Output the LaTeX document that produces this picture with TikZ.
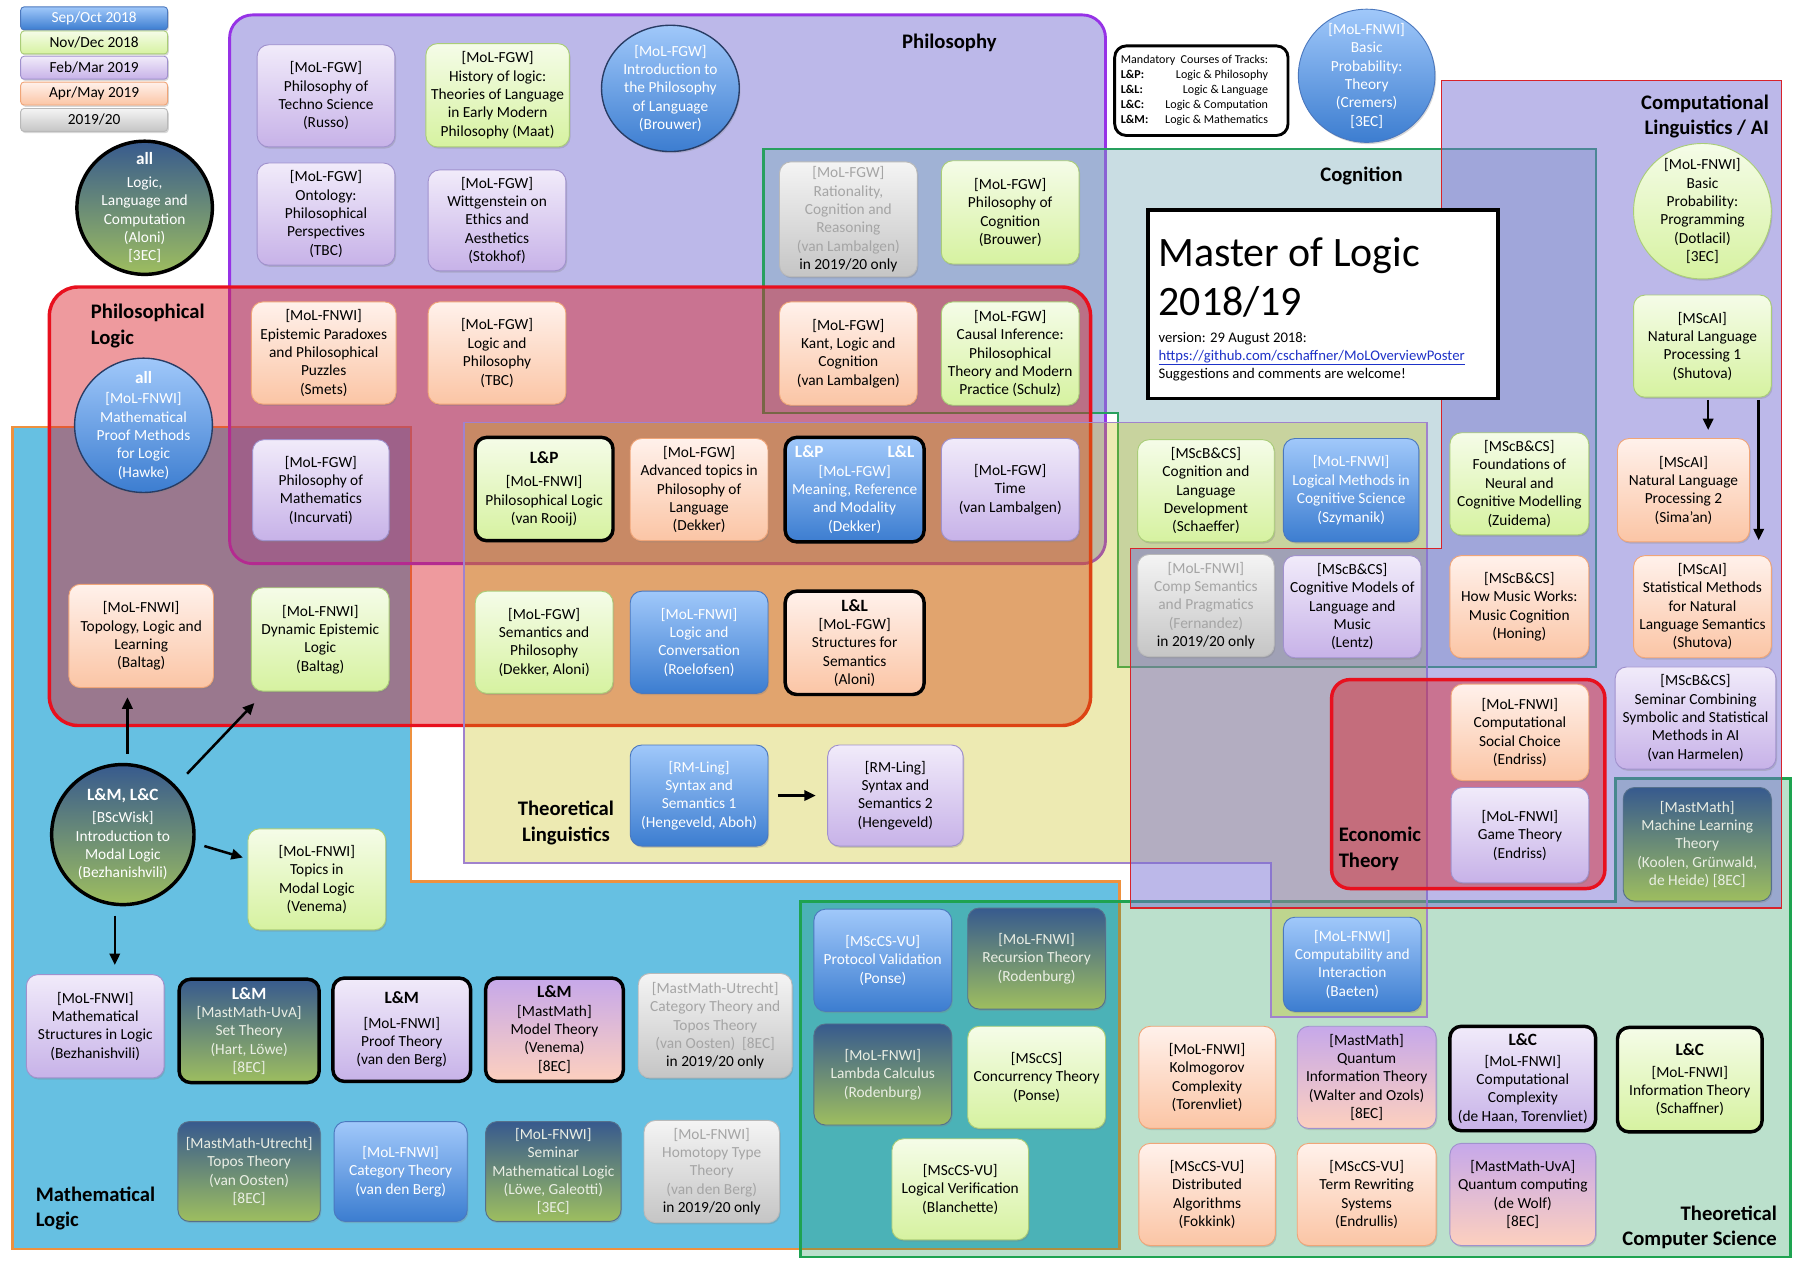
\documentclass[tikz,border=0pt]{standalone}
\usepackage{fontspec}
\setmainfont{Carlito}
\usetikzlibrary{shapes.geometric,arrows.meta,shadows}
\newcommand{\trackname}[1]{{\bfseries\fontsize{15}{16}\selectfont #1}}
% course colours
\definecolor{bTop}{RGB}{160,200,250}
\definecolor{bBot}{RGB}{60,125,208}
\definecolor{bBrd}{RGB}{75,120,190}
\definecolor{gTop}{RGB}{245,252,232}
\definecolor{gBot}{RGB}{214,242,160}
\definecolor{gBrd}{RGB}{170,205,120}
\definecolor{pTop}{RGB}{241,235,250}
\definecolor{pBot}{RGB}{199,178,232}
\definecolor{pBrd}{RGB}{160,145,205}
\definecolor{oTop}{RGB}{255,241,235}
\definecolor{oBot}{RGB}{251,197,165}
\definecolor{oBrd}{RGB}{240,165,120}
\definecolor{yTop}{RGB}{244,244,244}
\definecolor{yBot}{RGB}{197,197,197}
\definecolor{yBrd}{RGB}{185,185,185}
\definecolor{yTxt}{RGB}{165,165,165}
\definecolor{dTop}{RGB}{55,90,142}
\definecolor{dBot}{RGB}{158,190,95}
\definecolor{dBrd}{RGB}{85,112,140}
\definecolor{dTxt}{RGB}{234,238,228}
\definecolor{poTop}{RGB}{198,168,234}
\definecolor{poBot}{RGB}{253,208,190}
\definecolor{navyB}{RGB}{40,60,100}
% region colours
\definecolor{mathF}{RGB}{102,192,226}
\definecolor{mathB}{RGB}{238,145,62}
\definecolor{philF}{RGB}{117,108,210}
\definecolor{philB}{RGB}{150,50,230}
\definecolor{cogF}{RGB}{120,170,185}
\definecolor{cogB}{RGB}{40,160,95}
\definecolor{tcsF}{RGB}{4,141,70}
\definecolor{tcsB}{RGB}{30,163,80}
\definecolor{redF}{RGB}{218,33,40}
\definecolor{redB}{RGB}{232,16,30}
\definecolor{lingF}{RGB}{198,188,0}
\definecolor{lingB}{RGB}{160,130,205}
\definecolor{compB}{RGB}{216,35,42}
\definecolor{urlC}{RGB}{30,50,200}

\tikzset{
  cbox/.style={rectangle, rounded corners=10pt, line width=0.8pt, align=center, inner sep=2pt,
    minimum width=120pt, minimum height=89pt, font=\fontsize{13.4}{16}\selectfont,
    drop shadow={shadow xshift=1pt, shadow yshift=-1.5pt, opacity=0.3}},
  legbox/.style={rectangle, rounded corners=3pt, line width=0.8pt, inner sep=0pt,
    minimum width=128pt, minimum height=20pt, font=\fontsize{13.4}{16}\selectfont,
    drop shadow={shadow xshift=1pt, shadow yshift=-1.5pt, opacity=0.3}},
  circ/.style={ellipse, line width=0.8pt, inner sep=0pt,
    drop shadow={shadow xshift=1pt, shadow yshift=-1.5pt, opacity=0.3}},
  ctext/.style={align=center, font=\fontsize{13.4}{16}\selectfont, inner sep=0pt},
  sepoct/.style={top color=bTop, bottom color=bBot, draw=bBrd, text=white},
  novdec/.style={top color=gTop, bottom color=gBot, draw=gBrd},
  febmar/.style={top color=pTop, bottom color=pBot, draw=pBrd},
  aprmay/.style={top color=oTop, bottom color=oBot, draw=oBrd},
  nextyr/.style={top color=yTop, bottom color=yBot, draw=yBrd, text=yTxt},
  fullyr/.style={top color=dTop, bottom color=dBot, draw=dBrd, text=dTxt},
  febmay/.style={top color=poTop, bottom color=poBot, draw=pBrd},
  mand/.style={draw=black, line width=3pt},
  wd/.style={minimum width=#1pt},
  ht/.style={minimum height=#1pt},
  rlabel/.style={font=\bfseries\fontsize{18}{22}\selectfont, inner sep=0pt},
  arr/.style={line width=2.2pt, -{Triangle[length=10pt,width=9pt]}},
  ttl/.style={anchor=base west, inner sep=0pt},
}

\begin{document}
\begin{tikzpicture}[x=1pt,y=-1pt]
\useasboundingbox (0,0) rectangle (1568,1108);
\fill[white] (0,0) rectangle (1568,1108);

% ---------- regions ----------
\draw[draw=mathB, line width=2.5pt, fill=mathF]
  (11,372) -- (358,372) -- (358,768) -- (975,768) -- (975,1088) -- (11,1088) -- cycle;
\draw[draw=philB, line width=2.5pt, fill=philF, fill opacity=0.48, rounded corners=20pt]
  (200,13) rectangle (963,491);
\draw[draw=cogB, line width=2pt, fill=cogF, fill opacity=0.4]
  (665,130) -- (1390,130) -- (1390,581) -- (974,581) -- (974,360) -- (665,360) -- cycle;
\draw[draw=tcsB, line width=2.5pt, fill=tcsF, fill opacity=0.27]
  (697,785) -- (1407,785) -- (1407,678) -- (1560,678) -- (1560,1095) -- (697,1095) -- cycle;
\draw[draw=redB, line width=3pt, fill=redF, fill opacity=0.45, rounded corners=25pt]
  (43,250) rectangle (950,632);
\draw[draw=lingB, line width=1.5pt, fill=lingF, fill opacity=0.3]
  (404,368) -- (1243,368) -- (1243,886) -- (1107,886) -- (1107,752) -- (404,752) -- cycle;
\draw[draw=compB, line width=1pt, fill=philF, fill opacity=0.48]
  (1256,70) -- (1552,70) -- (1552,791) -- (985,791) -- (985,478) -- (1256,478) -- cycle;
\draw[draw=redB, line width=3pt, fill=redF, fill opacity=0.45, rounded corners=16pt]
  (1160,592) rectangle (1398,774);

% ---------- region labels ----------
\node[rlabel] (lblphil) at (827,37) {Philosophy};
\node[rlabel] (lblcog) at (1186,153) {Cognition};
\node[rlabel, align=right, anchor=east] (lblcomp) at (1541,101.5) {Computational\\Linguistics / AI};
\node[rlabel, align=left, anchor=west] (lblplog) at (79,284) {Philosophical\\Logic};
\node[rlabel, align=center] (lblling) at (493,717) {Theoretical\\Linguistics};
\node[rlabel, align=left, anchor=west] (lblmath) at (31,1053) {Mathematical\\Logic};
\node[rlabel, align=left, anchor=west] (lblecon) at (1166,739.5) {Economic\\Theory};
\node[rlabel, align=right, anchor=east] (lbltcs) at (1548,1069) {Theoretical\\Computer Science};

% ---------- legend ----------
\node[legbox, sepoct] (lgsep) at (82,16) {Sep/Oct 2018};
\node[legbox, novdec] (lgnov) at (82,37) {Nov/Dec 2018};
\node[legbox, febmar] (lgfeb) at (82,59) {Feb/Mar 2019};
\node[legbox, aprmay] (lgapr) at (82,81.5) {Apr/May 2019};
\node[legbox, nextyr, text=black] (lgnext) at (82,104.5) {2019/20};

\node[draw=black, line width=2.5pt, rounded corners=10pt, fill=white, minimum width=151pt,
  minimum height=78pt, inner sep=2pt, font=\fontsize{10.5}{13}\selectfont] (mandatory) at (1046.5,79)
  {\begin{tabular}{@{}l@{\hspace{8pt}}r@{\hspace{12pt}}}
   \multicolumn{2}{@{}l@{\hspace{12pt}}}{Mandatory\ \ Courses of Tracks:}\\
   \textbf{L\&P:} & Logic \& Philosophy\\
   \textbf{L\&L:} & Logic \& Language\\
   \textbf{L\&C:} & Logic \& Computation\\
   \textbf{L\&M:} & Logic \& Mathematics
   \end{tabular}};

% ---------- title ----------
\node[draw=black, line width=3pt, fill=white, minimum width=305pt, minimum height=164pt, inner sep=0pt] (title) at (1152.5,265) {};
\node[ttl, font=\fontsize{36.5}{42.5}\selectfont] (titlemain) at (1009,232.5) {Master of Logic};
\node[ttl, font=\fontsize{36.5}{42.5}\selectfont] (titleyear) at (1009,275) {2018/19};
\node[ttl, font=\fontsize{12.8}{16}\selectfont] (titleversion) at (1009,298) {version: 29 August 2018:};
\node[ttl, font=\fontsize{12.8}{16}\selectfont, text=urlC] (titleurl) at (1009,314) {\underline{https://github.com/cschaffner/MoLOverviewPoster}};
\node[ttl, font=\fontsize{12.8}{16}\selectfont] (titlenote) at (1009,330) {Suggestions and comments are welcome!};

% ---------- circles ----------
\node[circ, fullyr, mand, wd=118, ht=116,
  label={[ctext,text=white]center:{\trackname{all}\\[4pt]Logic,\\Language and\\Computation\\(Aloni)\\{}[3EC]}}] (llc) at (126,181) {};
\node[circ, sepoct, draw=navyB, line width=1.2pt, wd=120, ht=110,
  label={[ctext,text=white]center:{{}[MoL-FGW]\\Introduction to\\the Philosophy\\of Language\\(Brouwer)}}] (introphil) at (584,77) {};
\node[circ, sepoct, draw=navyB, line width=1.2pt, wd=120, ht=117,
  label={[ctext,text=white]center:{\trackname{all}\\[2pt]{}[MoL-FNWI]\\Mathematical\\Proof Methods\\for Logic\\(Hawke)}}] (proofmeth) at (125,370.5) {};
\node[circ, fullyr, mand, wd=124, ht=122,
  label={[ctext,text=white]center:{\trackname{L\&M, L\&C}\\[3pt]{}[BScWisk]\\Introduction to\\Modal Logic\\(Bezhanishvili)}}] (modal) at (107,727) {};
\node[circ, sepoct, wd=119, ht=116,
  label={[ctext,text=white]center:{{}[MoL-FNWI]\\Basic\\Probability:\\Theory\\(Cremers)\\{}[3EC]}}] (probtheory) at (1190.5,66) {};
\node[circ, novdec, wd=120, ht=118,
  label={[ctext]center:{{}[MoL-FNWI]\\Basic\\Probability:\\Programming\\(Dotlacil)\\{}[3EC]}}] (probprog) at (1483,184) {};

% ---------- Philosophy ----------
\node[cbox, febmar] (techno) at (284,83.5) {[MoL-FGW]\\Philosophy of\\Techno Science\\(Russo)};
\node[cbox, novdec, wd=125, ht=90] (history) at (433.5,83) {[MoL-FGW]\\History of logic:\\Theories of Language\\in Early Modern\\Philosophy (Maat)};
\node[cbox, febmar] (ontology) at (284,186.5) {[MoL-FGW]\\Ontology:\\Philosophical\\Perspectives\\(TBC)};
\node[cbox, febmar, ht=88] (wittgenstein) at (433,192) {[MoL-FGW]\\Wittgenstein on\\Ethics and\\Aesthetics\\(Stokhof)};
\node[cbox, nextyr, ht=100] (rationality) at (739,191) {[MoL-FGW]\\Rationality,\\Cognition and\\Reasoning\\(van Lambalgen)\\\textcolor{black}{in 2019/20 only}};
\node[cbox, novdec, ht=90] (philcog) at (880,185) {[MoL-FGW]\\Philosophy of\\Cognition\\(Brouwer)};
\node[cbox, aprmay, ht=90] (kant) at (739,308) {[MoL-FGW]\\Kant, Logic and\\Cognition\\(van Lambalgen)};
\node[cbox, novdec, ht=90] (causal) at (880,308) {[MoL-FGW]\\Causal Inference:\\Philosophical\\Theory and Modern\\Practice (Schulz)};
\node[cbox, aprmay, wd=126] (epistemic) at (282,307.5) {[MoL-FNWI]\\Epistemic Paradoxes\\and Philosophical\\Puzzles\\(Smets)};
\node[cbox, aprmay] (logphil) at (433,307.5) {[MoL-FGW]\\Logic and\\Philosophy\\(TBC)};
\node[cbox, febmar, wd=119, ht=88] (philmath) at (279.5,427) {[MoL-FGW]\\Philosophy of\\Mathematics\\(Incurvati)};
\node[cbox, aprmay, wd=126, ht=90] (topology) at (123,554) {[MoL-FNWI]\\Topology, Logic and\\Learning\\(Baltag)};
\node[cbox, novdec, ht=90] (del) at (279,557) {[MoL-FNWI]\\Dynamic Epistemic\\Logic\\(Baltag)};

% ---------- Mathematical Logic ----------
\node[cbox, novdec, ht=88] (topics) at (276,766) {[MoL-FNWI]\\Topics in\\Modal Logic\\(Venema)};
\node[cbox, febmar, ht=90] (mathstruct) at (83,894) {[MoL-FNWI]\\Mathematical\\Structures in Logic\\(Bezhanishvili)};
\node[cbox, fullyr, mand, wd=122, ht=90] (settheory) at (217,898) {\trackname{\textcolor{white}{L\&M}}\\{}[MastMath-UvA]\\Set Theory\\(Hart, Löwe)\\{}[8EC]};
\node[cbox, febmar, mand, ht=90] (prooftheory) at (350,897) {\trackname{L\&M}\\[5pt]{}[MoL-FNWI]\\Proof Theory\\(van den Berg)};
\node[cbox, febmay, mand, ht=90] (modeltheory) at (483,897) {\trackname{L\&M}\\{}[MastMath]\\Model Theory\\(Venema)\\{}[8EC]};
\node[cbox, nextyr, wd=134, ht=91] (cattopos) at (623,893.5) {[MastMath-Utrecht]\\Category Theory and\\Topos Theory\\(van Oosten)\ \ [8EC]\\\textcolor{black}{in 2019/20 only}};
\node[cbox, fullyr, wd=124, ht=87] (topos) at (217,1020.5) {[MastMath-Utrecht]\\Topos Theory\\(van Oosten)\\{}[8EC]};
\node[cbox, sepoct, wd=116, ht=87] (category) at (349,1020.5) {[MoL-FNWI]\\Category Theory\\(van den Berg)};
\node[cbox, fullyr, wd=118, ht=87] (seminar) at (482,1020.5) {[MoL-FNWI]\\Seminar\\Mathematical Logic\\(Löwe, Galeotti)\\{}[3EC]};
\node[cbox, nextyr, wd=118, ht=89] (homotopy) at (620,1020.5) {[MoL-FNWI]\\Homotopy Type\\Theory\\(van den Berg)\\\textcolor{black}{in 2019/20 only}};

% ---------- Theoretical Linguistics ----------
\node[cbox, novdec, mand, ht=90] (phillogic) at (474,426) {\trackname{L\&P}\\[4pt]{}[MoL-FNWI]\\Philosophical Logic\\(van Rooij)};
\node[cbox, aprmay] (advanced) at (609,426.5) {[MoL-FGW]\\Advanced topics in\\Philosophy of\\Language\\(Dekker)};
\node[cbox, sepoct, mand, wd=121, ht=91] (meaning) at (744.5,426.5) {\makebox[104pt]{\trackname{L\&P}\hfill\trackname{L\&L}}\\{}[MoL-FGW]\\Meaning, Reference\\and Modality\\(Dekker)};
\node[cbox, febmar] (time) at (880,426.5) {[MoL-FGW]\\Time\\(van Lambalgen)};
\node[cbox, novdec] (semphil) at (474,559.5) {[MoL-FGW]\\Semantics and\\Philosophy\\(Dekker, Aloni)};
\node[cbox, sepoct] (logconv) at (609,559.5) {[MoL-FNWI]\\Logic and\\Conversation\\(Roelofsen)};
\node[cbox, aprmay, mand, wd=121, ht=90] (structures) at (744.5,560) {\trackname{L\&L}\\{}[MoL-FGW]\\Structures for\\Semantics\\(Aloni)};
\node[cbox, sepoct, ht=88] (syntax1) at (609,693) {[RM-Ling]\\Syntax and\\Semantics 1\\(Hengeveld, Aboh)};
\node[cbox, febmar, wd=118, ht=88] (syntax2) at (780,693) {[RM-Ling]\\Syntax and\\Semantics 2\\(Hengeveld)};

% ---------- Cognition ----------
\node[cbox, novdec, wd=119] (coglang) at (1050.5,427.5) {[MScB\&CS]\\Cognition and\\Language\\Development\\(Schaeffer)};
\node[cbox, sepoct, wd=118, ht=90] (logmeth) at (1177,427) {[MoL-FNWI]\\Logical Methods in\\Cognitive Science\\(Szymanik)};
\node[cbox, nextyr, wd=119] (compsem) at (1050.5,527.5) {[MoL-FNWI]\\Comp Semantics\\and Pragmatics\\(Fernandez)\\\textcolor{black}{in 2019/20 only}};
\node[cbox, febmar] (cogmodels) at (1178,528.5) {[MScB\&CS]\\Cognitive Models of\\Language and\\Music\\(Lentz)};
\node[cbox, novdec, wd=121] (foundations) at (1323.5,421.5) {[MScB\&CS]\\Foundations of\\Neural and\\Cognitive Modelling\\(Zuidema)};
\node[cbox, aprmay, wd=121] (music) at (1323.5,528.5) {[MScB\&CS]\\How Music Works:\\Music Cognition\\(Honing)};

% ---------- Computational Linguistics / AI ----------
\node[cbox, novdec] (nlp1) at (1483,301.5) {[MScAI]\\Natural Language\\Processing 1\\(Shutova)};
\node[cbox, aprmay, wd=115, ht=90] (nlp2) at (1466.5,427) {[MScAI]\\Natural Language\\Processing 2\\(Sima'an)};
\node[cbox, aprmay] (statsem) at (1483,528.5) {[MScAI]\\Statistical Methods\\for Natural\\Language Semantics\\(Shutova)};
\node[cbox, febmar, wd=140] (semcomb) at (1477,625.5) {[MScB\&CS]\\Seminar Combining\\Symbolic and Statistical\\Methods in AI\\(van Harmelen)};
\node[cbox, fullyr, wd=129, ht=99] (mlt) at (1478.5,735.5) {[MastMath]\\Machine Learning\\Theory\\(Koolen, Grünwald,\\de Heide) [8EC]};

% ---------- Economic Theory ----------
\node[cbox, aprmay, ht=84] (socchoice) at (1324,638) {[MoL-FNWI]\\Computational\\Social Choice\\(Endriss)};
\node[cbox, febmar, ht=83] (gametheory) at (1324,727.5) {[MoL-FNWI]\\Game Theory\\(Endriss)};

% ---------- Theoretical Computer Science ----------
\node[cbox, sepoct, ht=82] (computability) at (1178,840) {[MoL-FNWI]\\Computability and\\Interaction\\(Baeten)};
\node[cbox, sepoct] (protocol) at (769,836.5) {[MScCS-VU]\\Protocol Validation\\(Ponse)};
\node[cbox, fullyr, ht=88] (recursion) at (903,835) {[MoL-FNWI]\\Recursion Theory\\(Rodenburg)};
\node[cbox, fullyr, ht=88] (lambda) at (769,936) {[MoL-FNWI]\\Lambda Calculus\\(Rodenburg)};
\node[cbox, novdec] (concurrency) at (903,938.5) {[MScCS]\\Concurrency Theory\\(Ponse)};
\node[cbox, novdec, wd=119, ht=88] (logver) at (836.5,1036) {[MScCS-VU]\\Logical Verification\\(Blanchette)};
\node[cbox, aprmay, wd=119] (kolmogorov) at (1051.5,938.5) {[MoL-FNWI]\\Kolmogorov\\Complexity\\(Torenvliet)};
\node[cbox, aprmay, wd=119] (distributed) at (1051.5,1040.5) {[MScCS-VU]\\Distributed\\Algorithms\\(Fokkink)};
\node[cbox, febmay, wd=121] (qit) at (1190.5,938.5) {[MastMath]\\Quantum\\Information Theory\\(Walter and Ozols)\\{}[8EC]};
\node[cbox, aprmay, wd=121] (termrew) at (1190.5,1040.5) {[MScCS-VU]\\Term Rewriting\\Systems\\(Endrullis)};
\node[cbox, febmar, mand, wd=127, ht=91] (compcomplex) at (1326.5,939.5) {\trackname{L\&C}\\[2pt]{}[MoL-FNWI]\\Computational\\Complexity\\(de Haan, Torenvliet)};
\node[cbox, febmay, wd=127] (qcomp) at (1326.5,1040.5) {[MastMath-UvA]\\Quantum computing\\(de Wolf)\\{}[8EC]};
\node[cbox, novdec, mand, wd=126, ht=91] (infotheory) at (1472,940.5) {\trackname{L\&C}\\[3pt]{}[MoL-FNWI]\\Information Theory\\(Schaffner)};

% ---------- arrows ----------
\draw[arr] ([xshift=4pt,yshift=8pt]modal.north) -- ([xshift=-12pt,yshift=-8pt]topology.south);
\draw[arr] ([xshift=56pt,yshift=53pt]modal.center) -- ([xshift=3pt,yshift=-10pt]del.south west);
\draw[arr] ([xshift=71pt,yshift=-10pt]modal.center) -- ([xshift=-4pt,yshift=19pt]topics.west);
\draw[arr] ([xshift=-7pt,yshift=-8pt]modal.south) -- ([xshift=17pt,yshift=8pt]mathstruct.north);
\draw[arr] ([xshift=8pt]syntax1.east) -- ([xshift=-10pt]syntax2.west);
\draw[arr] ([xshift=5pt,yshift=-2pt]nlp1.south) -- ([xshift=21.5pt,yshift=7pt]nlp2.north);
\draw[arr] ([xshift=49pt,yshift=-2pt]nlp1.south) -- ([xshift=49pt,yshift=13pt]statsem.north);
\end{tikzpicture}
\end{document}
